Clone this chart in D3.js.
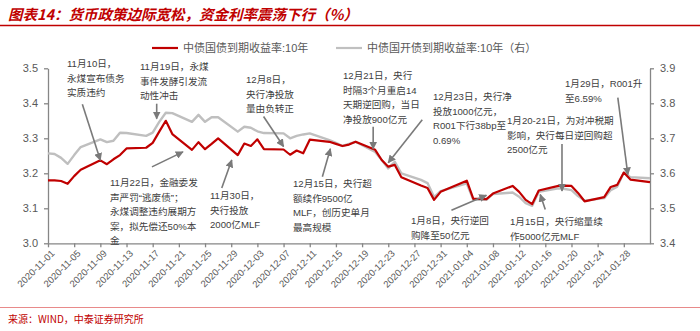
<!DOCTYPE html>
<html><head><meta charset="utf-8">
<script src="https://cdn.jsdelivr.net/npm/d3@7"></script>
<style>
html,body{margin:0;padding:0;background:#fff;}
svg{display:block;}
</style></head>
<body><svg id="chart" width="700" height="331"></svg>
<script>
// ---------------- DATA ----------------
const dates = [
 "2020-11-01","2020-11-02","2020-11-03","2020-11-04","2020-11-05","2020-11-06",
 "2020-11-09","2020-11-10","2020-11-11","2020-11-12","2020-11-13",
 "2020-11-16","2020-11-17","2020-11-18","2020-11-19","2020-11-20",
 "2020-11-23","2020-11-24","2020-11-25","2020-11-26","2020-11-27",
 "2020-11-30","2020-12-01","2020-12-02","2020-12-03","2020-12-04",
 "2020-12-07","2020-12-08","2020-12-09","2020-12-10","2020-12-11",
 "2020-12-14","2020-12-15","2020-12-16","2020-12-17","2020-12-18",
 "2020-12-21","2020-12-22","2020-12-23","2020-12-24","2020-12-25",
 "2020-12-28","2020-12-29","2020-12-30","2020-12-31",
 "2021-01-04","2021-01-05","2021-01-06","2021-01-07","2021-01-08",
 "2021-01-11","2021-01-12","2021-01-13","2021-01-14","2021-01-15",
 "2021-01-18","2021-01-19","2021-01-20","2021-01-21","2021-01-22",
 "2021-01-25","2021-01-26","2021-01-27","2021-01-28","2021-01-29",
 "2021-02-01"
];
// 中债国债到期收益率:10年 (left axis)
const cgb10 = [
 3.180,3.180,3.178,3.170,3.192,3.210,
 3.237,3.226,3.240,3.252,3.271,
 3.273,3.287,3.319,3.350,3.312,
 3.267,3.289,3.269,3.284,3.300,
 3.252,3.285,3.278,3.297,3.269,
 3.268,3.253,3.265,3.257,3.296,
 3.290,3.284,3.278,3.282,3.290,
 3.267,3.238,3.219,3.224,3.189,
 3.165,3.158,3.124,3.147,
 3.179,3.127,3.127,3.126,3.142,
 3.164,3.147,3.124,3.112,3.151,
 3.164,3.165,3.164,3.144,3.120,
 3.132,3.161,3.167,3.202,3.182,
 3.175
];
// 中债国开债到期收益率:10年 (right axis)
const cdb10 = [
 3.657,3.655,3.644,3.627,3.652,3.675,
 3.697,3.689,3.693,3.716,3.715,
 3.707,3.716,3.747,3.773,3.772,
 3.747,3.767,3.747,3.760,3.760,
 3.719,3.733,3.730,3.720,3.715,
 3.714,3.700,3.707,3.711,3.714,
 3.695,3.687,3.678,3.684,3.690,
 3.661,3.638,3.614,3.633,3.600,
 3.581,3.572,3.532,3.549,
 3.571,3.524,3.524,3.524,3.541,
 3.545,3.533,3.515,3.507,3.547,
 3.557,3.555,3.552,3.535,3.522,
 3.529,3.552,3.562,3.602,3.589,
 3.586
];
const seriesNames = ["中债国债到期收益率:10年","中债国开债到期收益率:10年（右）"];
const xTickLabels = [
 "2020-11-01","2020-11-05","2020-11-09","2020-11-13","2020-11-17","2020-11-21",
 "2020-11-25","2020-11-29","2020-12-03","2020-12-07","2020-12-11","2020-12-15",
 "2020-12-19","2020-12-23","2020-12-27","2020-12-31","2021-01-04","2021-01-08",
 "2021-01-12","2021-01-16","2021-01-20","2021-01-24","2021-01-28"
];
const leftTicks = [3.0,3.1,3.2,3.3,3.4,3.5];
const rightTicks = [3.4,3.5,3.6,3.7,3.8,3.9];
const titleText = "图表14：货币政策边际宽松，资金利率震荡下行（%）";
const sourceText = "来源：WIND，中泰证券研究所";
// annotation texts, each anchored to a date on the left-axis series
const noteTexts = [
 ["11月10日，","永煤宣布债务","实质违约"],
 ["11月19日，永煤","事件发酵引发流","动性冲击"],
 ["11月22日，金融委发","声严罚“逃废债”；","永煤调整违约展期方","案，拟先偿还50%本","金"],
 ["11月30日，","央行投放","2000亿MLF"],
 ["12月8日，","央行净投放","量由负转正"],
 ["12月15日，央行超","额续作9500亿","MLF，创历史单月","最高规模"],
 ["12月21日，央行","时隔3个月重启14","天期逆回购，当日","净投放900亿元"],
 ["12月23日，央行净","投放1000亿元，","R001下行38bp至","0.69%"],
 ["1月8日，央行逆回","购降至50亿元"],
 ["1月15日，央行缩量续","作5000亿元MLF"],
 ["1月20-21日，为对冲税期","影响，央行每日逆回购超","2500亿元"],
 ["1月29日，R001升","至6.59%"]
];
const noteDates = ["2020-11-09","2020-11-17","2020-11-23","2020-11-30","2020-12-07","2020-12-14",
 "2020-12-21","2020-12-23","2021-01-07","2021-01-15","2021-01-18","2021-01-28"];
const noteSeries = ["cgb","cdb","cgb","cgb","cgb","cgb","cgb","cgb","cgb","cgb","cgb","cgb"];

// ---------------- LAYOUT ----------------
const W = 700, H = 331;
const plot = {left:48, right:650, top:68.3, bottom:243.3};
// text position [x, first baseline], arrow tip offset from data point [dx,dy], tail offset from tip [dx,dy]
const noteLayout = [
 {tx:67, ty:67,  tip:[0,0],   tail:[-18,-56]},
 {tx:140,ty:70,  tip:[4,-14], tail:[0,-15]},
 {tx:110,ty:186, tip:[-9,2],  tail:[-31,15]},
 {tx:210,ty:199, tip:[-6,5],  tail:[-10,28]},
 {tx:246,ty:83,  tip:[0,-3],  tail:[-20,-30]},
 {tx:293,ty:187, tip:[1,7],   tail:[-8,28]},
 {tx:343,ty:79,  tip:[-2,-1], tail:[0,-22]},
 {tx:433,ty:100, tip:[0,-4],  tail:[34,-43]},
 {tx:411,ty:224, tip:[0,-4],  tail:[-35,15]},
 {tx:510,ty:225, tip:[1.5,4], tail:[5,15]},
 {tx:507,ty:124, tip:[3.6,5], tail:[0,-47]},
 {tx:565,ty:87,  tip:[4,2],   tail:[-10,-77]}
];
const lineH = 14.5;

const parse = d3.utcParse("%Y-%m-%d");
const fmt = d3.utcFormat("%Y-%m-%d");
const rows = dates.map((d,i)=>({date:parse(d), cgb:cgb10[i], cdb:cdb10[i]}));

const x = d3.scaleUtc().domain([parse("2020-11-01"), parse("2021-02-01")]).range([plot.left, plot.right]);
const yL = d3.scaleLinear().domain([3.0,3.5]).range([plot.bottom, plot.top]);
const yR = d3.scaleLinear().domain([3.4,3.9]).range([plot.bottom, plot.top]);

const svg = d3.select("#chart");
svg.append("rect").attr("width",W).attr("height",H).attr("fill","#fff");

const latin = "'Liberation Sans', Arial, 'Noto Sans CJK SC', sans-serif";
const cjk = "'Noto Sans CJK SC', 'Liberation Sans', sans-serif";
const red = "#c00000", gray = "#bfbfbf", axisCol = "#868686", textCol = "#595959";

// title
svg.append("text").attr("x",8).attr("y",20).text(titleText)
  .attr("font-family",cjk).attr("font-size",14.5).attr("font-weight","bold").attr("font-style","italic")
  .attr("fill",red);
svg.append("line").attr("x1",0).attr("x2",W).attr("y1",25.5).attr("y2",25.5)
  .attr("stroke",red).attr("stroke-width",1.6);

// legend
const legend = [
 {name:seriesNames[0], color:red, x:152},
 {name:seriesNames[1], color:"#c0c0c0", x:336}
];
legend.forEach(l=>{
  svg.append("line").attr("x1",l.x).attr("x2",l.x+26).attr("y1",48).attr("y2",48)
    .attr("stroke",l.color).attr("stroke-width",2.2);
  svg.append("text").attr("x",l.x+31).attr("y",52).text(l.name)
    .attr("font-family",latin).attr("font-size",11).attr("fill",textCol);
});

// axes
const gx = svg.append("g").attr("transform",`translate(0,${plot.bottom})`)
  .call(d3.axisBottom(x).tickValues(xTickLabels.map(parse)).tickFormat(fmt).tickSizeInner(4).tickSizeOuter(0));
gx.selectAll("text").attr("transform","rotate(-45)").attr("text-anchor","end")
  .attr("dx","-0.3em").attr("dy","0.55em")
  .attr("font-family",latin).attr("font-size",9.5).attr("fill",textCol);

const gl = svg.append("g").attr("transform",`translate(${plot.left},0)`)
  .call(d3.axisLeft(yL).tickValues(leftTicks).tickFormat(d3.format(".1f")).tickSizeInner(4).tickSizeOuter(0).tickPadding(6));
gl.selectAll("text").attr("font-family",latin).attr("font-size",11).attr("fill",textCol);

const gr = svg.append("g").attr("transform",`translate(${plot.right},0)`)
  .call(d3.axisRight(yR).tickValues(rightTicks).tickFormat(d3.format(".1f")).tickSizeInner(4).tickSizeOuter(0).tickPadding(6));
gr.selectAll("text").attr("font-family",latin).attr("font-size",11).attr("fill",textCol);

[gx,gl,gr].forEach(g=>{
  g.select(".domain").attr("stroke",axisCol).attr("stroke-width",1.3);
  g.selectAll(".tick line").attr("stroke",axisCol).attr("stroke-width",1.3);
});

// lines
const lineR = d3.line().x(d=>x(d.date)).y(d=>yR(d.cdb));
const lineL = d3.line().x(d=>x(d.date)).y(d=>yL(d.cgb));
svg.append("path").datum(rows).attr("d",lineR).attr("fill","none")
  .attr("stroke",gray).attr("stroke-width",2.4).attr("stroke-linejoin","round");
svg.append("path").datum(rows).attr("d",lineL).attr("fill","none")
  .attr("stroke",red).attr("stroke-width",2.2).attr("stroke-linejoin","round");

// arrow marker
svg.append("defs").append("marker").attr("id","arr")
  .attr("viewBox","0 0 10 10").attr("refX",9).attr("refY",5)
  .attr("markerWidth",8).attr("markerHeight",8).attr("markerUnits","userSpaceOnUse")
  .attr("orient","auto")
  .append("path").attr("d","M0,0L10,5L0,10z").attr("fill","#7a7a7a");

// annotations
noteTexts.forEach((lines,i)=>{
  const L = noteLayout[i];
  const r = rows.find(d=>fmt(d.date)===noteDates[i]);
  const py = noteSeries[i]==="cgb" ? yL(r.cgb) : yR(r.cdb);
  const tipX = x(r.date)+L.tip[0], tipY = py+L.tip[1];
  svg.append("line").attr("x1",tipX+L.tail[0]).attr("y1",tipY+L.tail[1])
    .attr("x2",tipX).attr("y2",tipY)
    .attr("stroke","#7a7a7a").attr("stroke-width",1.6).attr("marker-end","url(#arr)");
  const t = svg.append("text").attr("font-family",latin).attr("font-size",9.6).attr("fill","#404040");
  lines.forEach((s,k)=>{
    t.append("tspan").attr("x",L.tx).attr("y",L.ty+k*lineH).text(s);
  });
});

// source
svg.append("line").attr("x1",0).attr("x2",W).attr("y1",307.5).attr("y2",307.5)
  .attr("stroke","#e88a8a").attr("stroke-width",1);
svg.append("text").attr("x",8).attr("y",323).text(sourceText)
  .attr("font-family",cjk).attr("font-size",10).attr("fill",red);
</script></body></html>
